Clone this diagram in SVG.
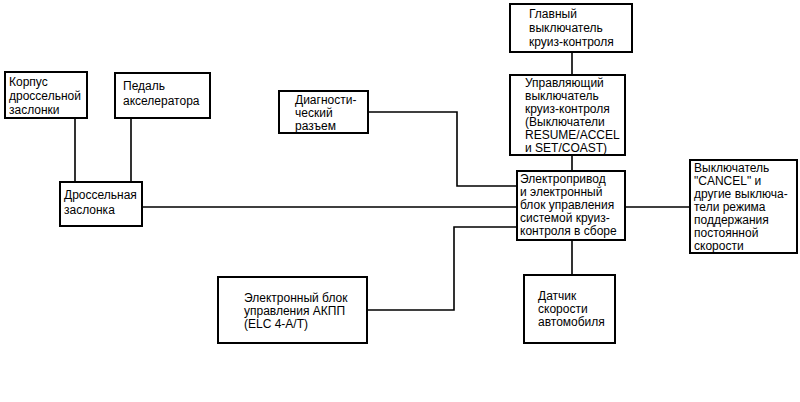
<svg xmlns="http://www.w3.org/2000/svg" width="800" height="402" viewBox="0 0 800 402">
<style>
rect{fill:#fff;stroke:#000;stroke-width:2}
text{font-family:"Liberation Sans",Arial,sans-serif;font-size:12px;fill:#000}
#connectors path{fill:none;stroke:#000;stroke-width:1.6}
</style>
<rect x="0" y="0" width="800" height="402" style="stroke:none"/>
<g id="connectors">
<path d="M75 118V182M131 118V182M142 207H517M368 112H457V186H517M367 310H454V227H517M572 52V75M572 155V171M625 207H690M572 240V275"/>
</g>
<g id="korpus"><rect x="5" y="72" width="82" height="46"/><text x="9" y="86">Корпус</text><text x="9" y="100">дроссельной</text><text x="9" y="114">заслонки</text></g>
<g id="pedal"><rect x="115" y="73" width="95" height="45"/><text x="123" y="90">Педаль</text><text x="123" y="105">акселератора</text></g>
<g id="diag"><rect x="279" y="91" width="89" height="42"/><text x="295" y="104">Диагности-</text><text x="295" y="117">ческий</text><text x="295" y="130">разъем</text></g>
<g id="zaslonka"><rect x="60" y="182" width="82" height="44"/><text x="64" y="199">Дроссельная</text><text x="64" y="214">заслонка</text></g>
<g id="main"><rect x="510" y="4" width="122" height="48"/><text x="529" y="18">Главный</text><text x="529" y="32">выключатель</text><text x="529" y="46">круиз-контроля</text></g>
<g id="upr"><rect x="510" y="75" width="115" height="80"/><text x="525" y="87">Управляющий</text><text x="525" y="100">выключатель</text><text x="525" y="113">круиз-контроля</text><text x="525" y="126">(Выключатели</text><text x="525" y="139">RESUME/ACCEL</text><text x="525" y="152">и SET/COAST)</text></g>
<g id="ecu"><rect x="517" y="171" width="108" height="69"/><text x="520" y="183">Электропривод</text><text x="520" y="196">и электронный</text><text x="520" y="209">блок управления</text><text x="520" y="222">системой круиз-</text><text x="520" y="235">контроля в сборе</text></g>
<g id="cancel"><rect x="690" y="160" width="107" height="93"/><text x="694" y="172">Выключатель</text><text x="694" y="185">"CANCEL" и</text><text x="694" y="198">другие выключа-</text><text x="694" y="211">тели режима</text><text x="694" y="224">поддержания</text><text x="694" y="237">постоянной</text><text x="694" y="250">скорости</text></g>
<g id="akpp"><rect x="218" y="277" width="149" height="66"/><text x="244" y="302">Электронный блок</text><text x="244" y="315">управления АКПП</text><text x="244" y="328">(ELC 4-A/T)</text></g>
<g id="sensor"><rect x="524" y="275" width="91" height="68"/><text x="538" y="300">Датчик</text><text x="538" y="313">скорости</text><text x="538" y="326">автомобиля</text></g>
</svg>
